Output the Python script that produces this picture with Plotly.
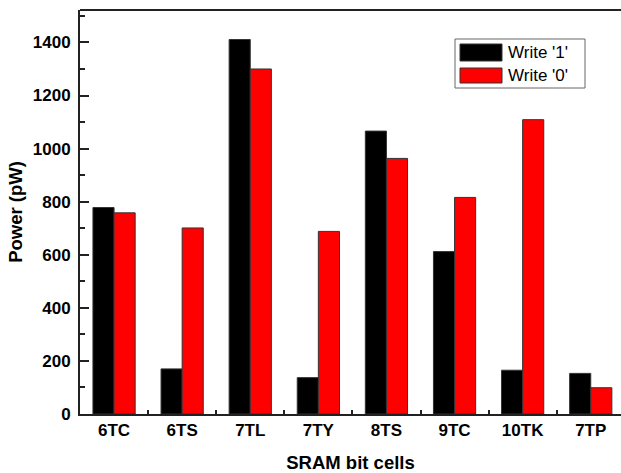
import plotly.graph_objects as go

categories = ["6TC", "6TS", "7TL", "7TY", "8TS", "9TC", "10TK", "7TP"]
write1 = [778, 170, 1411, 137, 1066, 612, 165, 153]
write0 = [758, 701, 1300, 688, 963, 816, 1109, 99]
series_names = ["Write '1'", "Write '0'"]
series_colors = ["#000000", "#ff0000"]

W, H = 621, 473
ML, MR, MT, MB = 80, 0, 10, 59
pw, ph = W - ML - MR, H - MT - MB

def px_x(x):
    return (x - ML) / pw

def px_y(y):
    return (H - MB - y) / ph

fig = go.Figure()
for name, vals, col in zip(series_names, [write1, write0], series_colors):
    fig.add_trace(go.Bar(
        x=categories, y=vals, name=name,
        marker=dict(color=col, line=dict(color="#333333", width=1)),
        showlegend=False,
    ))

font_b = dict(family="Arial, Liberation Sans, sans-serif", size=17, color="black", weight="bold")

fig.update_layout(
    width=W, height=H,
    margin=dict(l=ML, r=MR, t=MT, b=MB),
    paper_bgcolor="white", plot_bgcolor="white",
    barmode="group", bargap=0.38, bargroupgap=0,
    font=dict(family="Arial, Liberation Sans, sans-serif", color="black"),
    xaxis=dict(
        range=[-0.5, -0.5 + pw / 68.1],
        showline=True, linecolor="#222", linewidth=2, mirror=False,
        ticks="inside", tickson="boundaries", ticklen=4, tickwidth=1.5, tickcolor="#222",
        tickfont=font_b, showgrid=False, zeroline=False,
        title=dict(text="SRAM bit cells", font=dict(font_b, size=18.5), standoff=17),
    ),
    yaxis=dict(
        range=[0, ph / 0.2654],
        showline=True, linecolor="#222", linewidth=2, mirror=False,
        ticks="inside", ticklen=9, tickwidth=1.5, tickcolor="#222",
        dtick=200, tick0=0,
        minor=dict(ticks="inside", dtick=100, ticklen=5, tickwidth=1.5, tickcolor="#222", showgrid=False),
        tickfont=font_b, showgrid=False, zeroline=False,
        ticklabelstandoff=4,
        title=dict(text="Power (pW)", font=dict(font_b, size=18.5), standoff=5),
    ),
    shapes=[
        dict(type="line", xref="paper", yref="paper", x0=0, x1=1, y0=1, y1=1,
             line=dict(color="#222", width=2)),
        dict(type="rect", xref="paper", yref="paper",
             x0=px_x(455), x1=px_x(585), y0=px_y(88), y1=px_y(39),
             line=dict(color="#666", width=1), fillcolor="white"),
        dict(type="rect", xref="paper", yref="paper",
             x0=px_x(460), x1=px_x(502), y0=px_y(61), y1=px_y(44),
             line=dict(color="#333", width=1), fillcolor=series_colors[0]),
        dict(type="rect", xref="paper", yref="paper",
             x0=px_x(460), x1=px_x(502), y0=px_y(83), y1=px_y(68),
             line=dict(color="#333", width=1), fillcolor=series_colors[1]),
    ],
    annotations=[
        dict(text=series_names[0], xref="paper", yref="paper", x=px_x(506), y=px_y(52.5),
             xanchor="left", yanchor="middle", showarrow=False,
             font=dict(family="Arial, Liberation Sans, sans-serif", size=17, color="black")),
        dict(text=series_names[1], xref="paper", yref="paper", x=px_x(506), y=px_y(75.5),
             xanchor="left", yanchor="middle", showarrow=False,
             font=dict(family="Arial, Liberation Sans, sans-serif", size=17, color="black")),
    ],
)

fig.write_html("out.html")
